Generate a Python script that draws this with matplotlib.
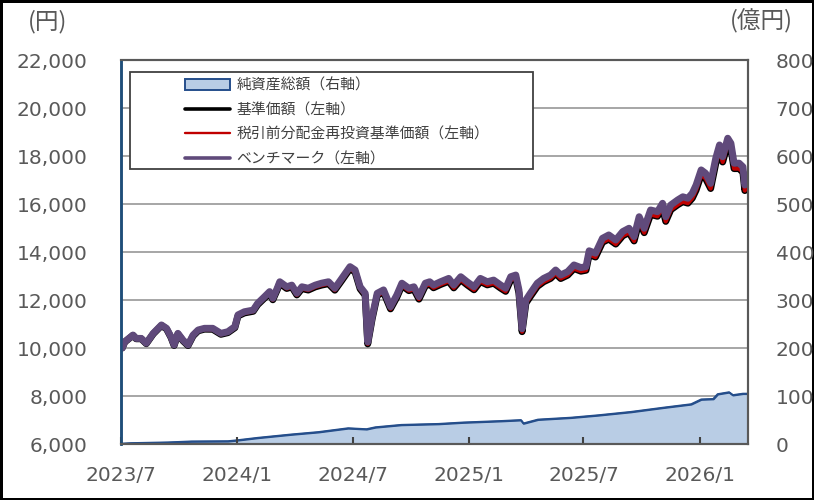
import pandas as pd
import matplotlib
matplotlib.use("Agg")
import matplotlib.pyplot as plt
import matplotlib.dates as mdates
from matplotlib.ticker import FuncFormatter, MultipleLocator
from matplotlib.patches import Rectangle

plt.rcParams['font.family'] = ['DejaVu Sans', 'Noto Sans CJK JP']

# 基準価額・ベンチマーク（円）
dates = [
    "2023-07-03", "2023-07-07", "2023-07-20", "2023-07-25", "2023-08-02", "2023-08-10",
    "2023-08-21", "2023-09-03", "2023-09-11", "2023-09-18", "2023-09-23", "2023-09-29",
    "2023-10-07", "2023-10-15", "2023-10-23", "2023-10-31", "2023-11-10", "2023-11-23",
    "2023-12-06", "2023-12-17", "2023-12-28", "2024-01-02", "2024-01-12", "2024-01-26",
    "2024-02-02", "2024-02-13", "2024-02-21", "2024-02-26", "2024-03-04", "2024-03-08",
    "2024-03-19", "2024-03-27", "2024-04-04", "2024-04-12", "2024-04-22", "2024-05-03",
    "2024-05-13", "2024-05-24", "2024-06-03", "2024-06-14", "2024-06-27", "2024-07-05",
    "2024-07-13", "2024-07-21", "2024-07-25", "2024-08-01", "2024-08-09", "2024-08-19",
    "2024-08-30", "2024-09-09", "2024-09-17", "2024-09-28", "2024-10-06", "2024-10-14",
    "2024-10-24", "2024-10-31", "2024-11-06", "2024-11-17", "2024-11-30", "2024-12-08",
    "2024-12-19", "2024-12-29", "2025-01-09", "2025-01-19", "2025-01-30", "2025-02-09",
    "2025-02-20", "2025-02-28", "2025-03-08", "2025-03-16", "2025-03-21", "2025-03-26",
    "2025-04-01", "2025-04-08", "2025-04-19", "2025-04-29", "2025-05-10", "2025-05-18",
    "2025-05-26", "2025-06-06", "2025-06-16", "2025-06-27", "2025-07-05", "2025-07-10",
    "2025-07-20", "2025-07-31", "2025-08-10", "2025-08-21", "2025-09-01", "2025-09-11",
    "2025-09-19", "2025-09-27", "2025-10-05", "2025-10-15", "2025-10-26", "2025-11-03",
    "2025-11-08", "2025-11-16", "2025-11-27", "2025-12-05", "2025-12-13", "2025-12-20",
    "2025-12-26", "2026-01-03", "2026-01-10", "2026-01-18", "2026-01-26", "2026-02-01",
    "2026-02-06", "2026-02-14", "2026-02-19", "2026-02-24", "2026-03-04", "2026-03-10",
    "2026-03-13", "2026-03-18",
]
benchmark = [
    10000, 10260, 10540, 10400, 10400, 10200, 10610, 10960, 10820, 10470, 10130, 10610,
    10330, 10130, 10540, 10750, 10820, 10820, 10610, 10680, 10890, 11380, 11510, 11580,
    11860, 12140, 12350, 12070, 12490, 12760, 12550, 12620, 12280, 12550, 12490, 12620,
    12700, 12760, 12490, 12900, 13390, 13250, 12550, 12280, 10250, 11300, 12280, 12420,
    11720, 12210, 12700, 12490, 12550, 12140, 12700, 12760, 12625, 12760, 12900, 12625,
    12970, 12760, 12550, 12900, 12760, 12830, 12625, 12490, 12970, 13040, 12420, 10800,
    12000, 12280, 12700, 12900, 13040, 13250, 13040, 13180, 13460, 13350, 13390, 14050,
    13950, 14570, 14710, 14500, 14850, 14990, 14640, 15470, 14990, 15750, 15680, 16030,
    15470, 15960, 16170, 16300, 16240, 16450, 16790, 17420, 17280, 16860, 17900, 18460,
    17970, 18740, 18530, 17700, 17700, 17550, 16790, 17200,
]
nav = [
    10000, 10250, 10525, 10385, 10385, 10180, 10590, 10935, 10795, 10445, 10105, 10580,
    10300, 10100, 10505, 10715, 10785, 10780, 10570, 10640, 10845, 11335, 11460, 11530,
    11805, 12085, 12290, 12010, 12425, 12695, 12480, 12550, 12210, 12475, 12415, 12545,
    12620, 12680, 12410, 12815, 13305, 13165, 12465, 12195, 10170, 11215, 12190, 12330,
    11630, 12115, 12600, 12390, 12445, 12035, 12590, 12650, 12510, 12645, 12780, 12505,
    12845, 12635, 12425, 12770, 12630, 12700, 12495, 12360, 12835, 12905, 12285, 10680,
    11870, 12145, 12565, 12760, 12900, 13105, 12895, 13035, 13310, 13200, 13240, 13895,
    13790, 14405, 14540, 14330, 14675, 14810, 14460, 15285, 14805, 15560, 15490, 15835,
    15275, 15760, 15970, 16095, 16035, 16245, 16580, 17210, 17065, 16645, 17680, 18240,
    17750, 18515, 18305, 17475, 17475, 17320, 16560, 16970,
]

# 純資産総額（億円）
aum_dates = [
    "2023-07-03", "2023-07-17", "2023-09-13", "2023-10-20", "2023-12-17", "2024-01-01",
    "2024-02-02", "2024-03-26", "2024-05-08", "2024-06-24", "2024-07-23", "2024-08-06",
    "2024-09-16", "2024-11-14", "2024-12-23", "2025-02-20", "2025-03-24", "2025-03-28",
    "2025-04-20", "2025-06-11", "2025-07-24", "2025-09-14", "2025-11-05", "2025-12-18",
    "2026-01-03", "2026-01-22", "2026-01-29", "2026-02-16", "2026-02-22", "2026-03-10",
    "2026-03-18",
]
aum = [
    1, 2, 3.5, 5.5, 6, 8, 13, 20, 25, 33, 31, 35, 40, 42, 45, 48, 50, 43, 51, 55, 60, 67,
    76, 83, 93, 94, 104, 108, 102, 105, 105,
]

x = pd.to_datetime(dates)
xa = pd.to_datetime(aum_dates)
txt = '#595959'

fig = plt.figure(figsize=(8.14, 5.0), dpi=100)
fig.patch.set_edgecolor('black')
fig.patch.set_linewidth(2.5)
ax = fig.add_axes([0.1486, 0.112, 0.7703, 0.768])
ax2 = ax.twinx()

# 純資産総額は右軸で背面に
ax2.fill_between(xa, 0, aum, color='#B9CDE5', edgecolor='none', label='純資産総額（右軸）')
ax2.plot(xa, aum, color='#254E8B', lw=1.3)
ax2.set_ylim(0, 800)
ax2.yaxis.set_major_locator(MultipleLocator(100))
ax2.grid(axis='y', color='#a6a6a6', lw=1.4)
ax2.set_axisbelow(True)

ax.set_zorder(ax2.get_zorder() + 1)
ax.patch.set_visible(False)
ax.plot(x, nav, color='black', lw=5.0, solid_joinstyle='round', solid_capstyle='round',
        label='基準価額（左軸）')
ax.plot(x, nav, color='#C00000', lw=3.0, solid_joinstyle='round', solid_capstyle='round',
        label='税引前分配金再投資基準価額（左軸）')
ax.plot(x, benchmark, color='#604A7B', lw=5.0, solid_joinstyle='round', solid_capstyle='round',
        label='ベンチマーク（左軸）')
ax.set_ylim(6000, 22000)
ax.yaxis.set_major_locator(MultipleLocator(2000))
ax.yaxis.set_major_formatter(FuncFormatter(lambda v, p: f'{int(v):,}'))
ax.set_xlim(pd.Timestamp('2023-07-01'), pd.Timestamp('2026-03-18'))
ax.xaxis.set_major_locator(mdates.MonthLocator(bymonth=[1, 7]))
ax.xaxis.set_major_formatter(FuncFormatter(lambda v, p: f'{mdates.num2date(v).year}/{mdates.num2date(v).month}'))

ax.tick_params(axis='y', length=0, pad=24, labelsize=14.5, labelcolor=txt)
ax2.tick_params(axis='y', length=0, pad=20, labelsize=14.5, labelcolor=txt)
ax.tick_params(axis='x', direction='in', length=5, width=1.5, color='#404040', pad=16,
               labelsize=14.5, labelcolor=txt)
for a in (ax, ax2):
    for s in ('top', 'right', 'bottom'):
        a.spines[s].set_color('#595959')
        a.spines[s].set_linewidth(1.5)
    a.spines['left'].set_color('#1F4E79')
    a.spines['left'].set_linewidth(1.8)

fig.text(0.059, 0.957, '(円)', fontsize=17, color=txt, ha='center', va='center',
         family=['Noto Sans CJK JP'])
fig.text(0.935, 0.957, '(億円)', fontsize=17, color=txt, ha='center', va='center',
         family=['Noto Sans CJK JP'])

# 凡例
h1, l1 = ax2.get_legend_handles_labels()
h2, l2 = ax.get_legend_handles_labels()
h1[0].set_edgecolor('#254E8B')
h1[0].set_linewidth(1.4)
leg = ax.legend(h1 + h2, l1 + l2, loc='upper left', bbox_to_anchor=(0.102, 0.952),
                frameon=False, borderpad=0, borderaxespad=0,
                handlelength=3.0, handletextpad=0.47, labelspacing=0.7,
                prop={'family': ['Noto Sans CJK JP'], 'size': 10.7})
for t in leg.get_texts():
    t.set_color('#404040')
for lh, w in zip(leg.get_lines(), [2.6, 1.7, 2.6]):
    lh.set_solid_capstyle('round')
    lh.set_linewidth(w)
ax.add_patch(Rectangle((0.0144, 0.716), 0.643, 0.253, transform=ax.transAxes,
                       facecolor='white', edgecolor='#404040', lw=1.3, zorder=4))
leg.set_zorder(5)

fig.savefig('out.png', dpi=100)
